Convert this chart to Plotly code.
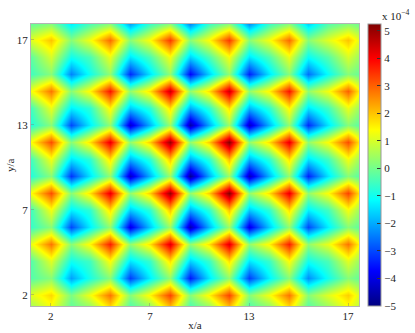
import plotly.graph_objects as go

x_nodes = list(range(1, 19))
y_nodes = list(range(1, 19))
tick_positions = [2, 7, 12, 17]
tick_labels = ["2", "7", "13", "17"]
cbar_ticks = [-5, -4, -3, -2, -1, 0, 1, 2, 3, 4, 5]
cbar_labels = ["\u22125", "\u22124", "\u22123", "\u22122", "\u22121", "0", "1", "2", "3", "4", "5"]

row_01 = [.2, 1.1, -.3, -.1, 1.3, -.6, -.2, 1.5, -.7, -.2, 1.5, -.6, -.2, 1.3, -.5, .1, 1.1, .1]
row_02 = [1.1, 1.8, .1, 1.3, 2.8, .2, 1.5, 3.3, .2, 1.5, 3.3, .2, 1.3, 2.8, .2, 1.1, 1.9, .4]
row_03 = [-.3, .2, -2.1, -.9, .2, -3.1, -1.3, .3, -3.5, -1.4, .3, -3.1, -1.3, .2, -2.3, -1.0, .2, -.4]
row_04 = [-.3, 1.1, -1.0, -.5, 1.4, -1.4, -.6, 1.7, -1.6, -.6, 1.7, -1.4, -.6, 1.4, -1.0, -.4, 1.1, -.2]
row_05 = [1.2, 2.8, .2, 1.5, 3.7, .3, 1.7, 4.3, .3, 1.7, 4.3, .3, 1.5, 3.7, .3, 1.2, 2.8, .3]
row_06 = [-.6, .2, -3.0, -1.3, .3, -4.0, -1.7, .4, -4.5, -1.9, .4, -4.0, -1.7, .3, -3.0, -1.3, .2, -.5]
row_07 = [-.5, 1.3, -1.3, -.7, 1.7, -1.7, -.7, 2.0, -2.0, -.7, 2.0, -1.7, -.7, 1.7, -1.3, -.5, 1.3, -.3]
row_08 = [1.4, 3.2, .2, 1.7, 4.2, .3, 1.9, 5.0, .3, 1.9, 5.2, .3, 1.7, 4.2, .3, 1.4, 3.3, .3]
row_09 = [-.8, .2, -3.2, -1.4, .3, -4.3, -1.9, .4, -4.8, -2.0, .4, -4.4, -1.9, .3, -3.4, -1.4, .2, -.6]
row_10 = [-.5, 1.3, -1.4, -.7, 1.7, -1.9, -.7, 2.0, -2.0, -.7, 2.1, -1.9, -.7, 1.7, -1.4, -.5, 1.3, -.3]
row_11 = [1.4, 3.2, .2, 1.7, 4.2, .3, 1.9, 5.0, .3, 1.9, 5.2, .3, 1.7, 4.2, .3, 1.4, 3.2, .3]
row_12 = [-.8, .2, -3.0, -1.3, .3, -4.2, -1.9, .4, -4.6, -2.0, .4, -4.3, -1.9, .3, -3.3, -1.4, .2, -.6]
row_13 = [-.5, 1.2, -1.3, -.7, 1.5, -1.7, -.7, 1.7, -2.0, -.7, 1.7, -1.9, -.7, 1.5, -1.4, -.5, 1.2, -.3]
row_14 = [1.3, 2.8, .2, 1.5, 3.8, .3, 1.7, 4.5, .3, 1.7, 4.5, .3, 1.5, 3.8, .3, 1.3, 3.0, .3]
row_15 = [-.5, .2, -2.4, -1.0, .3, -3.3, -1.4, .3, -3.7, -1.6, .3, -3.4, -1.4, .2, -2.6, -1.1, .2, -.4]
row_16 = [-.2, 1.0, -1.0, -.4, 1.2, -1.4, -.4, 1.3, -1.6, -.4, 1.3, -1.4, -.4, 1.2, -1.1, -.3, 1.0, -.1]
row_17 = [1.1, 2.0, .2, 1.3, 2.9, .2, 1.4, 3.4, .2, 1.4, 3.4, .2, 1.3, 2.9, .2, 1.1, 2.0, .4]
row_18 = [-.2, .1, -1.4, -.5, .1, -2.2, -.7, .1, -2.5, -.7, .1, -2.4, -.7, .1, -1.7, -.4, .1, -.3]
z_values = [row_01, row_02, row_03, row_04, row_05, row_06, row_07, row_08, row_09,
            row_10, row_11, row_12, row_13, row_14, row_15, row_16, row_17, row_18]

jet = [[0, "rgb(0,0,128)"], [.125, "rgb(0,0,255)"], [.375, "rgb(0,255,255)"],
       [.625, "rgb(255,255,0)"], [.875, "rgb(255,0,0)"], [1, "rgb(128,0,0)"]]

font = dict(family="'Liberation Serif', 'Times New Roman', serif", size=11, color="#222")

fig = go.Figure(go.Heatmap(
    x=x_nodes, y=y_nodes, z=z_values, zsmooth="best", colorscale=jet,
    zmin=-5, zmax=5.25,
    colorbar=dict(
        x=1.027, xanchor="left", xpad=0, y=0, yanchor="bottom", ypad=0,
        lenmode="fraction", len=1, thicknessmode="pixels", thickness=13,
        tickvals=cbar_ticks, ticktext=cbar_labels, ticks="inside", ticklen=4,
        tickcolor="#333", tickwidth=1, outlinecolor="#999", outlinewidth=1,
        tickfont=font),
))
fig.update_layout(
    width=415, height=333, margin=dict(l=31, r=56, t=24, b=27, autoexpand=False),
    paper_bgcolor="white", plot_bgcolor="white", font=font,
    xaxis=dict(range=[1, 17.55], tickvals=tick_positions, ticktext=tick_labels, automargin=False,
               ticks="inside", ticklen=3, tickcolor="rgba(120,120,120,.4)",
               showline=True, mirror=True, linecolor="rgba(130,130,130,.6)",
               showgrid=False, zeroline=False, tickfont=font,
               title=dict(text="x/a", font=font, standoff=0)),
    yaxis=dict(range=[1.35, 17.94], tickvals=tick_positions, ticktext=tick_labels, automargin=False,
               ticks="inside", ticklen=3, tickcolor="rgba(120,120,120,.4)",
               showline=True, mirror=True, linecolor="rgba(130,130,130,.6)",
               showgrid=False, zeroline=False, tickfont=font),
    annotations=[
        dict(text="x 10<sup>\u22124</sup>", xref="paper", yref="paper",
             x=1.063, y=1.0, xanchor="left", yanchor="bottom",
             showarrow=False, font=font),
        dict(text="y/a", xref="paper", yref="paper", x=-0.064, y=0.5, textangle=-90,
             xanchor="center", yanchor="middle", showarrow=False, font=font),
    ],
)
fig.write_html("out.html", post_script="document.body.style.margin='0';",
               config={"displayModeBar": False})
